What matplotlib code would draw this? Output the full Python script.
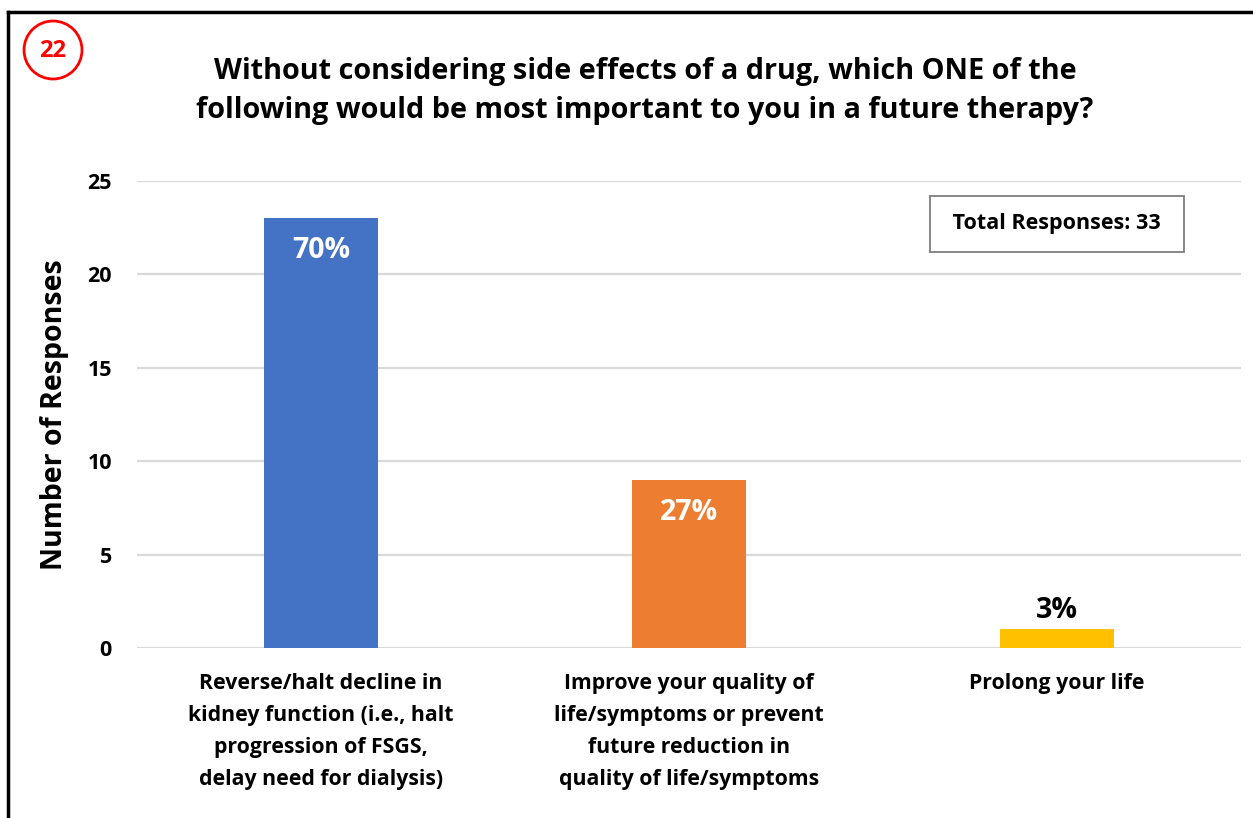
import matplotlib.pyplot as plt
from matplotlib.patches import Circle

categories = [
    "Reverse/halt decline in\nkidney function (i.e., halt\nprogression of FSGS,\ndelay need for dialysis)",
    "Improve your quality of\nlife/symptoms or prevent\nfuture reduction in\nquality of life/symptoms",
    "Prolong your life",
]
responses = [23, 9, 1]
pct_labels = ["70%", "27%", "3%"]
colors = ["#4472C4", "#ED7D31", "#FFC000"]
total = 33

plt.rcParams['font.family'] = ['Open Sans', 'DejaVu Sans']
plt.rcParams['font.weight'] = 'bold'

W, H = 1253, 818
fig = plt.figure(figsize=(W / 100, H / 100), dpi=100)
fig.patch.set_facecolor('white')

# axes box in pixels: x 137..1241, y 181 (25) .. 648 (0)
ax = fig.add_axes([137 / W, 1 - 648 / H, (1241 - 137) / W, (648 - 181) / H])
x = range(len(categories))
bars = ax.bar(x, responses, width=0.31, color=colors, zorder=3)
ax.set_xlim(-0.5, 2.5)
ax.set_ylim(0, 25)
ax.set_yticks([0, 5, 10, 15, 20, 25])
ax.grid(axis='y', color='#d9d9d9', linewidth=1.6, zorder=0)
for s in ax.spines.values():
    s.set_visible(False)
ax.tick_params(axis='both', length=0, labelsize=15.5, colors='black')
ax.tick_params(axis='y', pad=18)
ax.tick_params(axis='x', pad=18)
ax.set_xticks(list(x))
ax.set_xticklabels(categories, fontsize=15.3, fontweight='bold', linespacing=1.68)
for lbl in ax.get_yticklabels():
    lbl.set_fontweight('bold')
ax.set_ylabel("Number of Responses", fontsize=20.5, fontweight='bold', labelpad=13)

# percentage labels: inside tall bars, above the short one
for i, (v, p) in enumerate(zip(responses, pct_labels)):
    if v > 3:
        ax.text(i, v - 0.95, p, ha='center', va='top', color='white',
                fontsize=20.5, fontweight='bold', zorder=4)
    else:
        ax.text(i, v + 0.25, p, ha='center', va='bottom', color='black',
                fontsize=20.5, fontweight='bold', zorder=4)

ax.text(0.833, 0.908, f" Total Responses: {total} ", transform=ax.transAxes,
        ha='center', va='center', fontsize=15.5, fontweight='bold',
        bbox=dict(boxstyle='square,pad=0.8', fc='white', ec='#7f7f7f', lw=1.3))

fig.text(645 / W, 1 - 91 / H,
         "Without considering side effects of a drug, which ONE of the\n"
         "following would be most important to you in a future therapy?",
         ha='center', va='center', fontsize=20.8, fontweight='bold', linespacing=1.45)

# outer frame (top and left edges)
fig.add_artist(plt.Line2D([8 / W, 8 / W], [0, 1 - 12 / H], color='black', lw=2.5,
                          transform=fig.transFigure))
fig.add_artist(plt.Line2D([8 / W, 1], [1 - 12 / H, 1 - 12 / H], color='black', lw=2.5,
                          transform=fig.transFigure))

# slide number badge
badge_ax = fig.add_axes([0, 0, 1, 1], zorder=5)
badge_ax.set_xlim(0, W)
badge_ax.set_ylim(H, 0)
badge_ax.axis('off')
badge_ax.add_patch(Circle((53, 50), 29, fill=False, ec='#FF0000', lw=2))
badge_ax.text(53, 51, "22", ha='center', va='center', color='#FF0000',
              fontsize=17, fontweight='bold')

fig.savefig('out.png', dpi=100)
